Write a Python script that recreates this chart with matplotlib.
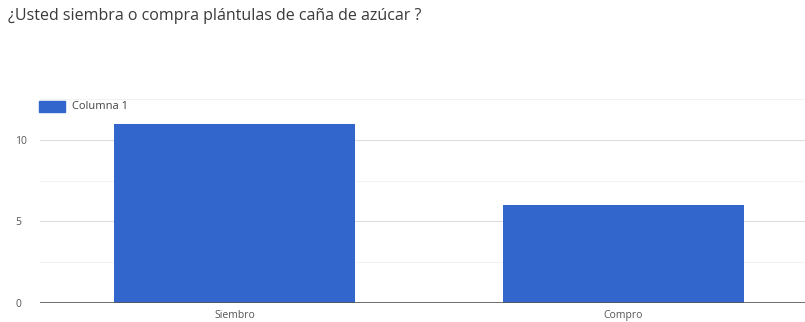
import matplotlib.pyplot as plt
from matplotlib.patches import Rectangle

# Datos
categorias = ['Siembro', 'Compro']
valores = [11, 6]
serie = 'Columna 1'
titulo = '¿Usted siembra o compra plántulas de caña de azúcar ?'

plt.rcParams['font.family'] = ['Open Sans', 'DejaVu Sans']

fig = plt.figure(figsize=(8.05, 3.22), dpi=100)
ax = fig.add_axes([40 / 805, 19.3 / 322, 778 / 805, 203.4 / 322])

x = list(range(len(categorias)))
ax.bar(x, valores, width=0.617, color='#3366cc', zorder=3)

ax.set_xlim(-0.5, 1.5)
ax.set_ylim(0, 12.5)

# Líneas de cuadrícula
for v in [2.5, 7.5, 12.5]:
    ax.axhline(v, color='#f2f2f2', lw=0.8, zorder=1)
for v in [5, 10]:
    ax.axhline(v, color='#dcdcdc', lw=0.8, zorder=1)
ax.axhline(0, color='#555555', lw=1.2, zorder=4)

ax.set_yticks([0, 5, 10])
ax.set_xticks(x)
ax.set_xticklabels(categorias)
ax.tick_params(axis='both', length=0, labelsize=7.5, colors='#555555')
ax.tick_params(axis='y', pad=18)
ax.tick_params(axis='x', pad=5)
for lbl in ax.get_yticklabels():
    lbl.set_horizontalalignment('left')
for s in ax.spines.values():
    s.set_visible(False)

# Leyenda
fig.patches.append(Rectangle((39 / 805, 1 - 112 / 322), 26 / 805, 11 / 322,
                             transform=fig.transFigure, color='#3366cc'))
fig.text(72 / 805, 1 - 106.5 / 322, serie, fontsize=8, color='#444444', va='center')

fig.text(8 / 805, 1 - 16 / 322, titulo, fontsize=11.5, color='#3a3a3a', va='center')

fig.savefig('out.png', dpi=100)
